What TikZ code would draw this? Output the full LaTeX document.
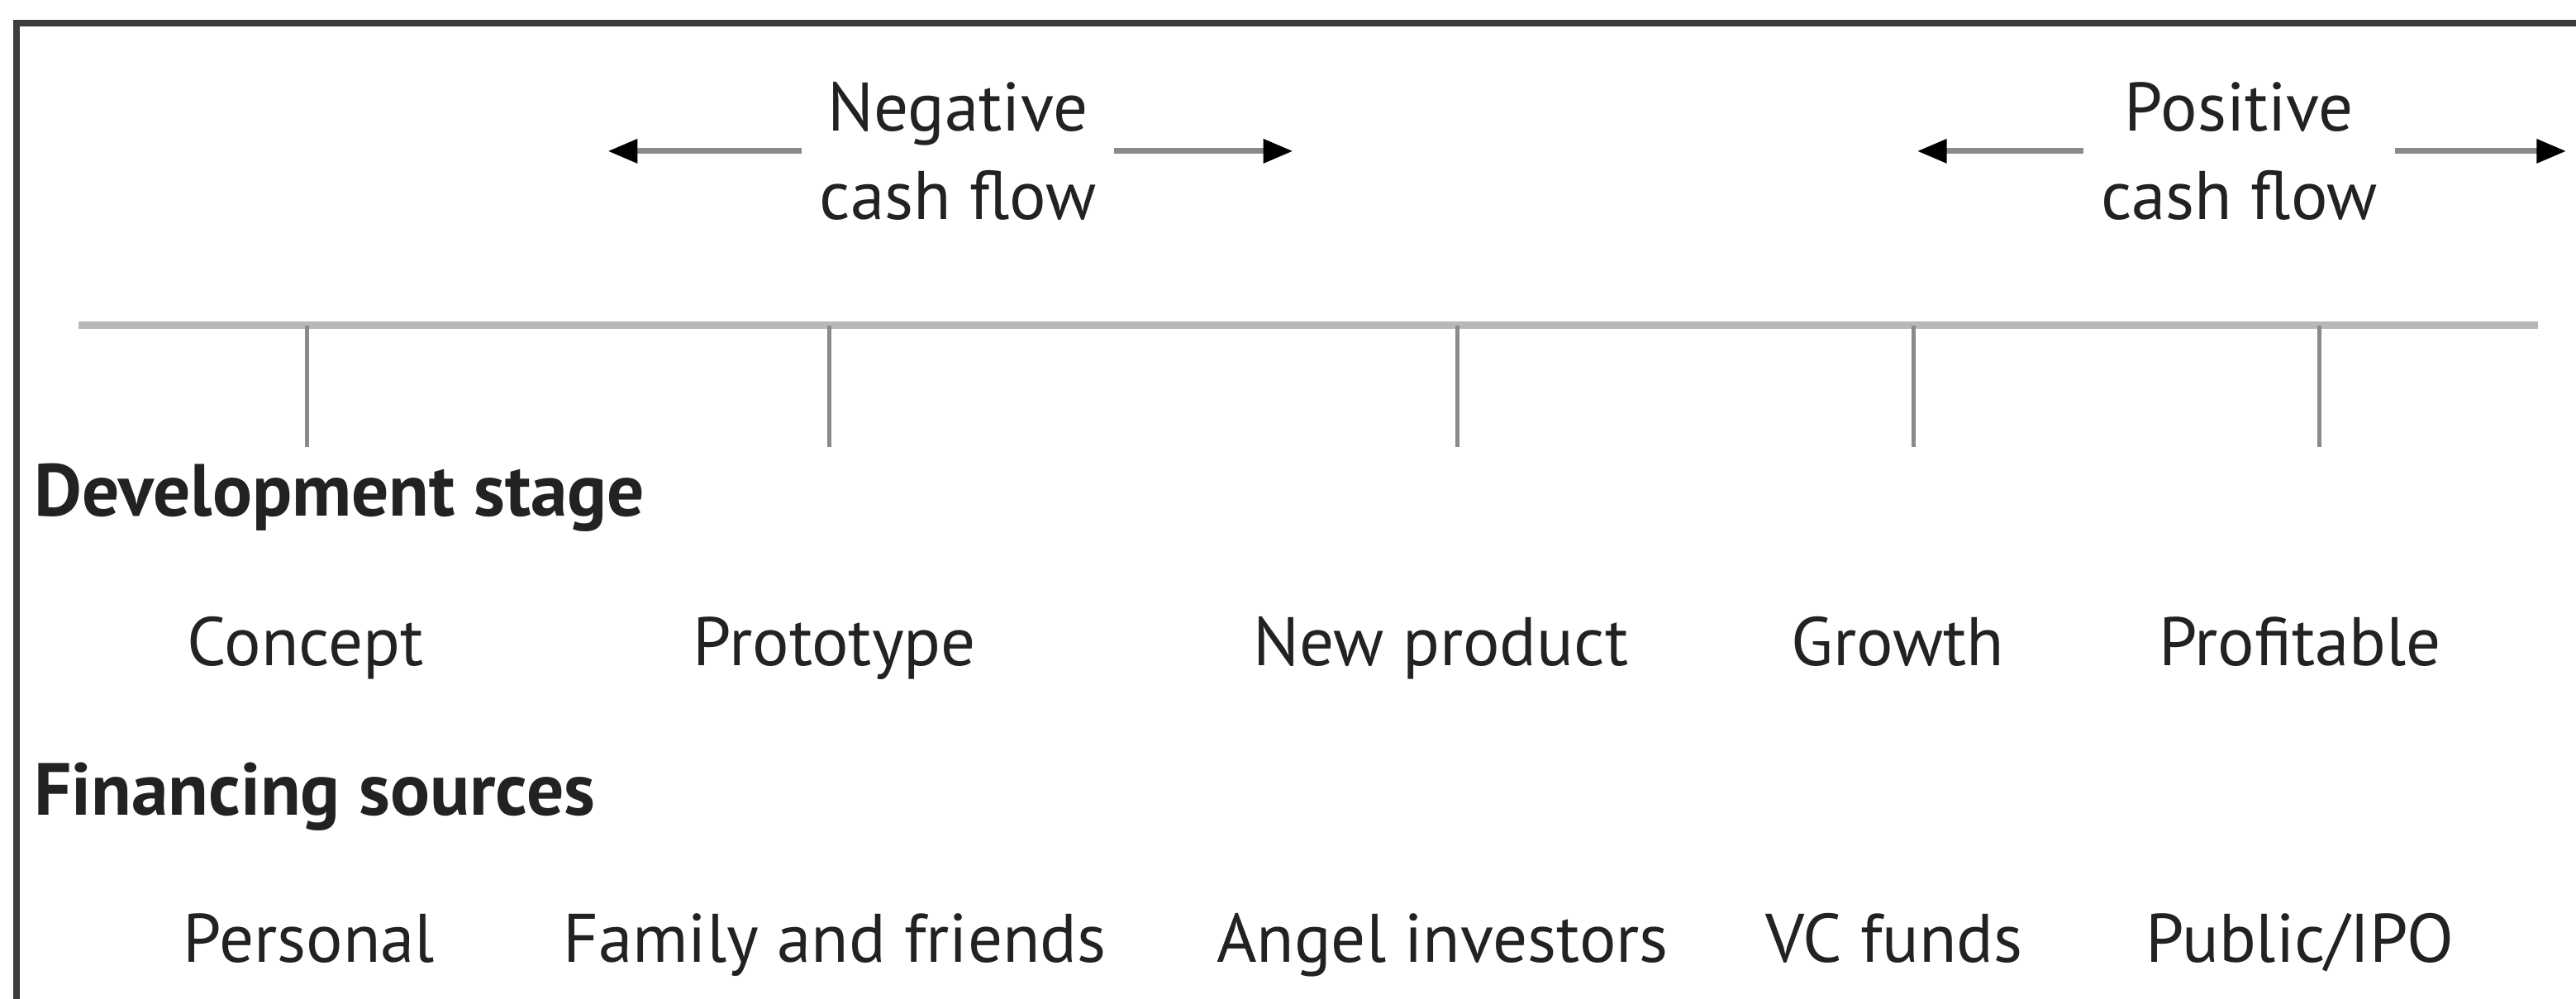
\documentclass[tikz,border=0pt]{standalone}
\usepackage{fontspec}
\setmainfont{PT Sans}
\usetikzlibrary{arrows.meta}

\definecolor{axisgray}{HTML}{B8B8B8}
\definecolor{tickgray}{HTML}{8A8A8A}
\definecolor{framegray}{HTML}{3C3C3C}
\definecolor{inkgray}{HTML}{222222}

\tikzset{
    stagelabel/.style={anchor=base, inner sep=0pt, text=inkgray, font=\fontsize{11.9}{14}\selectfont},
    headlabel/.style={anchor=base west, inner sep=0pt, text=inkgray, font=\fontsize{12.8}{14}\selectfont\bfseries},
    flowlabel/.style={align=center, inner sep=1.0mm, text=inkgray, font=\fontsize{11.9}{15.4}\selectfont},
    flowarrow/.style={draw=tickgray, line width=0.35mm, -{Triangle[length=1.8mm,width=1.4mm,color=black]}},
    tickline/.style={draw=tickgray, line width=0.25mm}
}

\begin{document}
\begin{tikzpicture}
            \useasboundingbox (0,0) rectangle (15.68,6.08);

            % Frame - left and top edges only
            \draw[framegray, line width=0.4mm] (0.10,0) -- (0.10,5.94) -- (15.68,5.94);

            % Timeline
            \coordinate (axisL) at (0.48,4.10);
            \coordinate (axisR) at (15.45,4.10);
            \draw[axisgray, line width=0.45mm] (axisL) -- (axisR);

            % Ticks - one per stage
            \coordinate (t1) at (1.87,4.10);  \coordinate (t1b) at (1.87,3.36);
            \coordinate (t2) at (5.05,4.10);  \coordinate (t2b) at (5.05,3.36);
            \coordinate (t3) at (8.87,4.10);  \coordinate (t3b) at (8.87,3.36);
            \coordinate (t4) at (11.65,4.10); \coordinate (t4b) at (11.65,3.36);
            \coordinate (t5) at (14.12,4.10); \coordinate (t5b) at (14.12,3.36);
            \draw[tickline] (t1) -- (t1b);
            \draw[tickline] (t2) -- (t2b);
            \draw[tickline] (t3) -- (t3b);
            \draw[tickline] (t4) -- (t4b);
            \draw[tickline] (t5) -- (t5b);

            % Cash flow - negative
            \node[flowlabel] (negflow) at (5.83,5.16) {Negative\\cash flow};
            \coordinate (negL) at (3.70,5.16);
            \coordinate (negR) at (7.87,5.16);
            \draw[flowarrow] (negflow.west) -- (negL);
            \draw[flowarrow] (negflow.east) -- (negR);

            % Cash flow - positive
            \node[flowlabel] (posflow) at (13.63,5.16) {Positive\\cash flow};
            \coordinate (posL) at (11.67,5.16);
            \coordinate (posR) at (15.62,5.16);
            \draw[flowarrow] (posflow.west) -- (posL);
            \draw[flowarrow] (posflow.east) -- (posR);

            % Development stage
            \node[headlabel] (devhead) at (0.20,2.94) {Development stage};
            \node[stagelabel] (concept) at (1.86,2.03) {Concept};
            \node[stagelabel] (prototype) at (5.08,2.03) {Prototype};
            \node[stagelabel] (newprod) at (8.77,2.03) {New product};
            \node[stagelabel] (growth) at (11.55,2.03) {Growth};
            \node[stagelabel] (profit) at (14.00,2.03) {Profitable};

            % Financing sources
            \node[headlabel] (finhead) at (0.20,1.12) {Financing sources};
            \node[stagelabel] (personal) at (1.88,0.22) {Personal};
            \node[stagelabel] (family) at (5.08,0.22) {Family and friends};
            \node[stagelabel] (angel) at (8.78,0.22) {Angel investors};
            \node[stagelabel] (vcfunds) at (11.53,0.22) {VC funds};
            \node[stagelabel] (public) at (14.00,0.22) {Public/IPO};

\end{tikzpicture}
\end{document}
